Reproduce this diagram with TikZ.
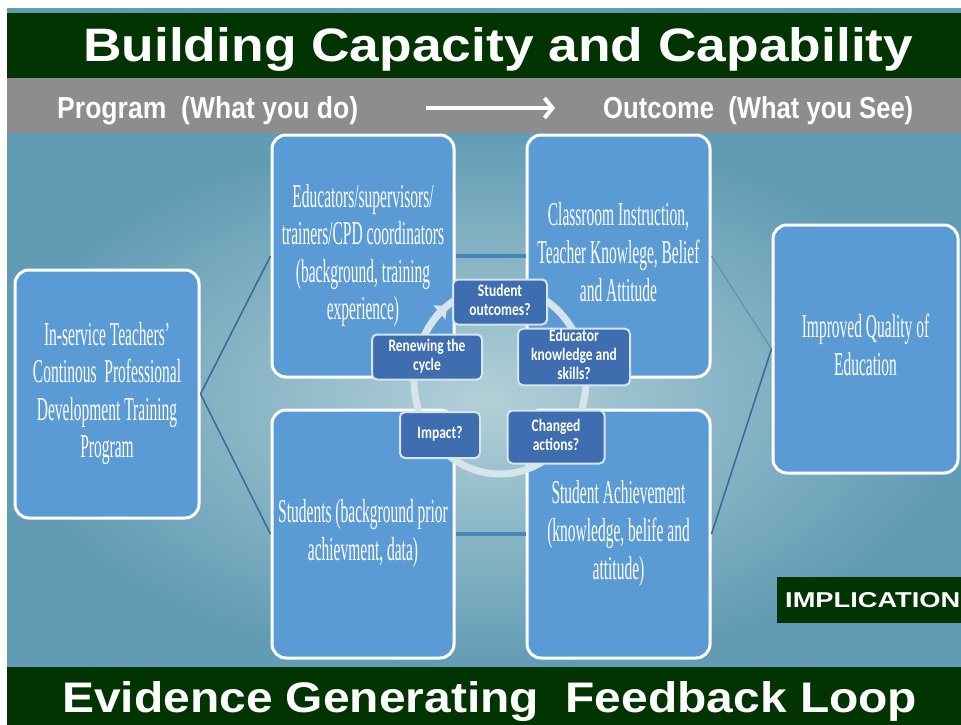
\documentclass[tikz,border=0pt]{standalone}
\usepackage{fontspec}
\setmainfont{Liberation Serif}
\newfontfamily\headfont{Liberation Sans}
\newfontfamily\calfont{Carlito}
\usepackage{graphicx}
\usetikzlibrary{arrows.meta}

\definecolor{darkband}{RGB}{2,52,2}
\definecolor{greyband}{RGB}{142,140,140}
\definecolor{bgouter}{RGB}{98,156,180}
\definecolor{bginner}{RGB}{178,208,216}
\definecolor{boxfill}{RGB}{91,155,213}
\definecolor{qfill}{RGB}{62,110,175}
\definecolor{ringcol}{RGB}{214,228,236}
\definecolor{linkdark}{RGB}{58,104,150}
\definecolor{linkmid}{RGB}{72,132,190}
\definecolor{linkgrey}{RGB}{104,142,166}

\newcommand{\boxtxt}[1]{\scalebox{1}[2.15]{\fontsize{15.5}{17.5}\selectfont\begin{tabular}{@{}c@{}}#1\end{tabular}}}
\newcommand{\qtxt}[1]{\scalebox{1}[1.3]{\calfont\bfseries\fontsize{13.5}{14.5}\selectfont\begin{tabular}{@{}c@{}}#1\end{tabular}}}

\begin{document}
\begin{tikzpicture}[x=1pt,y=-1pt,
    bigbox/.style={draw=white, line width=3pt, fill=boxfill, rounded corners=14pt, text=white, inner sep=0pt},
    qbox/.style={draw=ringcol, line width=2pt, fill=qfill, rounded corners=5pt, text=white, inner sep=0pt},
    headtxt/.style={anchor=base west, inner sep=0pt, text=white},
    link/.style={linkdark, line width=1.5pt},
    midlink/.style={linkmid, line width=4pt},
    thinlink/.style={linkgrey, line width=1.2pt},
    cyclering/.style={ringcol, line width=7pt}]
                \useasboundingbox (0,0) rectangle (961,725);

                % Slide background
                \fill[white] (0,0) rectangle (961,725);
                \fill[bgouter] (7,8) rectangle (961,725);
                \shade[inner color=bginner, outer color=bgouter] (7,133) rectangle (961,667);
                \fill[darkband] (7,13) rectangle (961,78);
                \fill[greyband] (7,78) rectangle (961,133);
                \fill[darkband] (7,667) rectangle (961,725);

                % Headings
                \node[headtxt] (title) at (83,62) {\resizebox{830pt}{34pt}{\headfont\bfseries Building Capacity and Capability}};
                \node[headtxt] (prog) at (57,118) {\resizebox{301pt}{22pt}{\headfont\bfseries Program\ \ (What you do)}};
                \node[headtxt] (outc) at (603,118) {\resizebox{310pt}{22pt}{\headfont\bfseries Outcome\ \ (What you See)}};
                \coordinate (arrA) at (426,108);
                \coordinate (arrB) at (555,108);
                \draw[white, line width=4pt, -{Straight Barb[length=8pt,width=20pt]}] (arrA) -- (arrB);
                \node[headtxt] (loop) at (62,712) {\resizebox{855pt}{31pt}{\headfont\bfseries Evidence Generating\ \ Feedback Loop}};
                \node[fill=darkband, anchor=west, inner xsep=8pt, inner ysep=0pt, minimum height=46pt, text=white] (impl) at (777,600) {\resizebox{175pt}{15pt}{\headfont\bfseries IMPLICATION}};

                % Main boxes
                \node[bigbox, minimum width=184pt, minimum height=248pt] (inserv) at (107,394) {\raisebox{18pt}{\boxtxt{In-service Teachers'\\Continous\ \ Professional\\Development Training\\Program}}};
                \node[bigbox, minimum width=182pt, minimum height=242pt] (educ) at (363,256) {\boxtxt{Educators/supervisors/\\trainers/CPD coordinators\\(background, training\\experience)}};
                \node[bigbox, minimum width=183pt, minimum height=242pt] (class) at (618.5,256) {\boxtxt{Classroom Instruction,\\Teacher Knowlege, Belief\\and Attitude}};
                \node[bigbox, minimum width=182pt, minimum height=248pt] (stud) at (363,534) {\raisebox{12pt}{\boxtxt{Students (background prior\\achievment, data)}}};
                \node[bigbox, minimum width=183pt, minimum height=248pt] (achv) at (618.5,534) {\boxtxt{Student Achievement\\(knowledge, belife and\\attitude)}};
                \node[bigbox, minimum width=185pt, minimum height=248pt] (qual) at (865.5,349) {\boxtxt{Improved Quality of\\Education}};

                % Links between boxes
                \draw[link] (inserv.east) -- (educ.west);
                \draw[link] (inserv.east) -- (stud.west);
                \draw[midlink] (educ.east) -- (class.west);
                \draw[midlink] (stud.east) -- (achv.west);
                \draw[thinlink] (class.east) -- (qual.west);
                \draw[link] (achv.east) -- (qual.west);

                % Feedback cycle
                \draw[cyclering] (500,380) ellipse [x radius=86pt, y radius=94pt];
                \draw[cyclering, -{Triangle[length=10pt,width=18pt]}] (427.1,330.2) arc[start angle=148, end angle=128, x radius=86pt, y radius=94pt];
                \node[qbox, minimum width=94pt, minimum height=45pt] (sout) at (500,302) {\qtxt{Student\\outcomes?}};
                \node[qbox, minimum width=112pt, minimum height=55pt] (eknow) at (574,357) {\qtxt{Educator\\knowledge and\\skills?}};
                \node[qbox, minimum width=97pt, minimum height=53pt] (chg) at (556,437) {\qtxt{Changed\\actions?}};
                \node[qbox, minimum width=80pt, minimum height=46pt] (imp) at (440,435) {\qtxt{Impact?}};
                \node[qbox, minimum width=110pt, minimum height=45pt] (renew) at (427,357) {\qtxt{Renewing the\\cycle}};
            \end{tikzpicture}
\end{document}
